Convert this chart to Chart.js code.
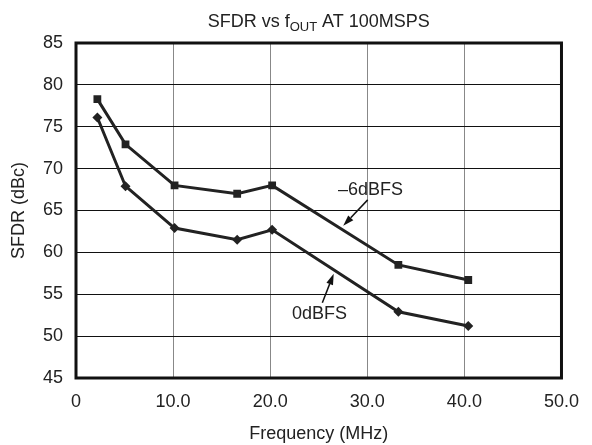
<!DOCTYPE html>
<html>
<head>
<meta charset="utf-8">
<script src="https://cdn.jsdelivr.net/npm/chart.js@4/dist/chart.umd.min.js"></script>
<style>
  html, body { margin: 0; padding: 0; background: #fff; }
  #wrap { width: 592px; height: 445px; }
</style>
</head>
<body>
<div id="wrap"><canvas id="sfdr-chart"></canvas></div>
<script>
// valores
const freqMinus6 = [2.2, 5.1, 10.15, 16.6, 20.2, 33.2, 40.4];
const sfdrMinus6 = [78.3, 72.9, 68.0, 67.0, 68.0, 58.5, 56.7];
const freq0 = [2.2, 5.1, 10.15, 16.6, 20.2, 33.2, 40.4];
const sfdr0 = [76.1, 67.9, 62.9, 61.5, 62.7, 52.9, 51.2];

const xTicks = [0, 10, 20, 30, 40, 50];
const yTicks = [45, 50, 55, 60, 65, 70, 75, 80, 85];

// rótulos das curvas: [texto, x, y] e setas [x1, y1, x2, y2] em unidades de dados
const curveLabels = [['\u20136dBFS', 30.34, 67.46], ['0dBFS', 25.07, 52.58]];
const curveArrows = [[30.04, 66.27, 27.52, 63.17], [25.37, 53.98, 26.54, 57.46]];

const FONT = 'Liberation Sans, Arial, sans-serif';

function toPoints(xs, ys) {
    return xs.map((x, i) => ({ x: x, y: ys[i] }));
}

const titlePlugin = {
    id: 'titleSub',
    afterDraw(chart) {
        const ctx = chart.ctx;
        const area = chart.chartArea;
        const parts = [
            { t: 'SFDR vs f', size: 18, dy: 0 },
            { t: 'OUT', size: 13, dy: 4 },
            { t: ' AT 100MSPS', size: 18, dy: 0 }
        ];
        ctx.save();
        ctx.fillStyle = '#222';
        ctx.textBaseline = 'alphabetic';
        let total = 0;
        parts.forEach(p => {
            ctx.font = p.size + 'px ' + FONT;
            p.w = ctx.measureText(p.t).width;
            total += p.w;
        });
        let x = (area.left + area.right) / 2 - total / 2;
        const base = 27;
        parts.forEach(p => {
            ctx.font = p.size + 'px ' + FONT;
            ctx.fillText(p.t, x, base + p.dy);
            x += p.w;
        });
        ctx.restore();
    }
};

const framePlugin = {
    id: 'frameAndNotes',
    afterDatasetsDraw(chart) {
        const ctx = chart.ctx;
        const a = chart.chartArea;
        const xs = chart.scales.x;
        const ys = chart.scales.y;
        ctx.save();
        ctx.strokeStyle = '#111';
        ctx.lineWidth = 3;
        ctx.strokeRect(a.left, a.top, a.right - a.left, a.bottom - a.top);

        // setas
        ctx.lineWidth = 1.5;
        ctx.fillStyle = '#111';
        curveArrows.forEach(ar => {
            const x1 = xs.getPixelForValue(ar[0]), y1 = ys.getPixelForValue(ar[1]);
            const x2 = xs.getPixelForValue(ar[2]), y2 = ys.getPixelForValue(ar[3]);
            const ang = Math.atan2(y2 - y1, x2 - x1);
            const len = 11, half = 3.5;
            const bx = x2 - len * Math.cos(ang), by = y2 - len * Math.sin(ang);
            ctx.beginPath();
            ctx.moveTo(x1, y1);
            ctx.lineTo(bx, by);
            ctx.stroke();
            ctx.beginPath();
            ctx.moveTo(x2, y2);
            ctx.lineTo(bx + half * Math.sin(ang), by - half * Math.cos(ang));
            ctx.lineTo(bx - half * Math.sin(ang), by + half * Math.cos(ang));
            ctx.closePath();
            ctx.fill();
        });

        // rótulos
        ctx.font = '18px ' + FONT;
        ctx.fillStyle = '#222';
        ctx.textAlign = 'center';
        ctx.textBaseline = 'middle';
        curveLabels.forEach(l => {
            ctx.fillText(l[0], xs.getPixelForValue(l[1]), ys.getPixelForValue(l[2]));
        });
        ctx.restore();
    }
};

const ctx = document.getElementById('sfdr-chart').getContext('2d');
const sfdrChart = new Chart(ctx, {
    type: 'scatter',
    data: {
        datasets: [{
            label: '-6dBFS',
            data: toPoints(freqMinus6, sfdrMinus6),
            showLine: true,
            borderColor: '#222',
            backgroundColor: '#222',
            borderWidth: 3,
            pointStyle: 'rect',
            pointRadius: 5.5,
            pointBorderWidth: 0
        }, {
            label: '0dBFS',
            data: toPoints(freq0, sfdr0),
            showLine: true,
            borderColor: '#222',
            backgroundColor: '#222',
            borderWidth: 3,
            pointStyle: 'rectRot',
            pointRadius: 5,
            pointBorderWidth: 0
        }]
    },
    options: {
        responsive: true,
        maintainAspectRatio: false,
        animation: false,
        layout: { padding: { left: 0, right: 20, top: 43, bottom: 0 } },
        plugins: {
            legend: { display: false },
            tooltip: { enabled: false }
        },
        scales: {
            x: {
                type: 'linear',
                min: 0,
                max: 50,
                afterBuildTicks: s => { s.ticks = xTicks.map(v => ({ value: v })); },
                afterFit: s => { s.height = 67; },
                grid: { color: '#888', lineWidth: 1, drawTicks: false },
                border: { display: false },
                ticks: {
                    color: '#222',
                    padding: 13,
                    font: { family: FONT, size: 18 },
                    callback: v => v === 0 ? '0' : v.toFixed(1)
                },
                title: {
                    display: true,
                    text: 'Frequency (MHz)',
                    color: '#222',
                    font: { family: FONT, size: 18 },
                    padding: { top: 2, bottom: 0 }
                }
            },
            y: {
                min: 45,
                max: 85,
                afterBuildTicks: s => { s.ticks = yTicks.map(v => ({ value: v })); },
                afterFit: s => { s.width = 76; },
                grid: { color: '#111', lineWidth: 1, drawTicks: false },
                border: { display: false },
                ticks: {
                    color: '#222',
                    padding: 13,
                    font: { family: FONT, size: 18 }
                },
                title: {
                    display: true,
                    text: 'SFDR (dBc)',
                    color: '#222',
                    font: { family: FONT, size: 18 },
                    padding: { top: 8, bottom: 0 }
                }
            }
        }
    },
    plugins: [titlePlugin, framePlugin]
});
</script>
</body>
</html>
